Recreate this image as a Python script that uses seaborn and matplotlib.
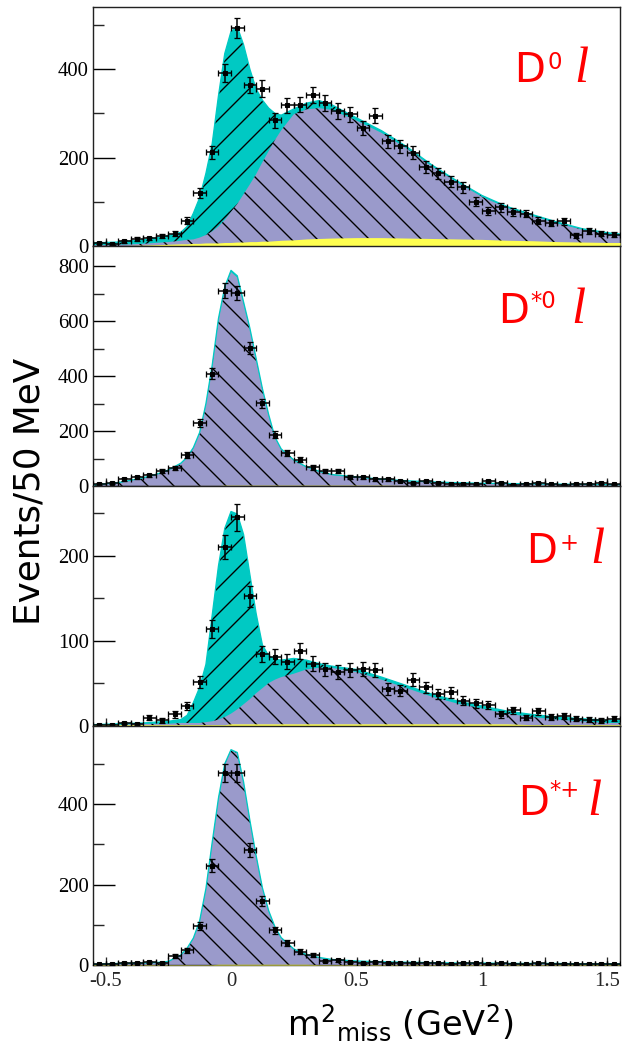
import numpy as np
import matplotlib
matplotlib.use("Agg")
import matplotlib.pyplot as plt
import seaborn as sns
from matplotlib.ticker import MultipleLocator
from matplotlib.transforms import ScaledTranslation

# ---------------------------------------------------------------------------
# Histogram binning (50 MeV-wide bins in m^2_miss, GeV^2)
bin_centers = np.round(np.arange(-0.525, 1.55, 0.05), 3)
half_width = 0.025

# Observed events per bin
counts_d0 = [8, 6, 12, 17, 18, 23, 29, 58, 120, 212, 391, 492, 364, 356, 285, 318,
             320, 341, 323, 305, 298, 267, 295, 237, 226, 211, 180, 165, 146, 133,
             101, 80, 88, 78, 74, 58, 53, 57, 25, 35, 29, 27]
counts_dst0 = [7, 12, 24, 32, 39, 56, 65, 114, 230, 408, 711, 702, 502, 301, 187, 120,
               96, 68, 53, 56, 33, 32, 25, 24, 19, 12, 19, 12, 8, 7, 6, 17, 10, 5,
               8, 10, 6, 4, 8, 8, 10, 6]
counts_dp = [1, 1, 3, 2, 9, 6, 13, 23, 51, 114, 210, 245, 152, 84, 81, 75, 88, 73, 66,
             63, 65, 67, 65, 43, 41, 54, 45, 37, 39, 29, 26, 24, 13, 18, 9, 17, 10,
             11, 8, 7, 6, 8]
counts_dstp = [2, 3, 5, 5, 7, 5, 23, 37, 96, 247, 477, 477, 286, 158, 86, 54, 33, 25,
               10, 12, 7, 6, 8, 5, 6, 4, 5, 4, 3, 5, 4, 3, 4, 3, 2, 4, 3, 3, 2, 3, 3, 2]

# Fit components sampled along m^2_miss
fit_x = [-0.55, -0.45, -0.35, -0.3, -0.25, -0.2, -0.175, -0.15, -0.125, -0.1, -0.075,
         -0.05, -0.025, 0.0, 0.025, 0.05, 0.075, 0.1, 0.125, 0.15, 0.175, 0.2, 0.25,
         0.3, 0.35, 0.4, 0.5, 0.6, 0.7, 0.8, 0.9, 1.0, 1.1, 1.2, 1.3, 1.4, 1.5, 1.55]

# D0 l sample
d0_bkg = [1, 2, 3, 4, 5, 6, 6, 7, 7, 8, 8, 8, 9, 9, 10, 10, 11, 11, 12, 12, 13, 14, 15,
          17, 18, 19, 20, 20, 19, 18, 17, 16, 14, 13, 11, 10, 9, 9]
d0_dstar = [2, 2, 3, 4, 5, 7, 9, 9, 13, 18, 26, 37, 51, 69, 86, 108, 129, 152, 178, 203,
            227, 248, 283, 292, 294, 289, 264, 236, 202, 163, 128, 96, 73, 56, 41, 28,
            19, 16]
d0_sig = [5, 6, 9, 11, 14, 19, 30, 59, 90, 139, 198, 295, 375, 407, 399, 337, 260, 192,
          140, 97, 60, 34, 12, 14, 17, 12, 6, 5, 4, 3, 3, 3, 3, 3, 3, 2, 3, 3]

# D*0 l sample
dst0_bkg = [1, 1, 2, 2, 2, 2, 2, 2, 2, 2, 2, 2, 3, 3, 3, 3, 3, 3, 3, 3, 3, 3, 3, 3, 3,
            3, 3, 3, 2, 2, 2, 2, 2, 2, 2, 2, 2, 2]
dst0_dstar = [2, 10, 27, 39, 55, 80, 101, 136, 191, 295, 434, 603, 716, 776, 756, 662,
              568, 458, 349, 254, 173, 130, 90, 65, 49, 37, 28, 21, 16, 12, 9, 7, 6, 5,
              4, 3, 2, 2]
dst0_sig = [1, 1, 1, 1, 1, 1, 2, 2, 2, 3, 4, 5, 6, 6, 6, 5, 4, 4, 3, 3, 2, 2, 2, 2, 2,
            2, 2, 1, 1, 1, 1, 1, 1, 1, 1, 1, 1, 1]

# D+ l sample
dp_bkg = [1, 1, 1, 1, 1, 1, 1, 1, 1, 1, 1, 1, 1, 2, 2, 2, 2, 2, 2, 2, 2, 2, 2, 2, 2, 2,
          2, 2, 2, 2, 2, 2, 2, 1, 1, 1, 1, 1]
dp_dstar = [0, 0, 1, 1, 1, 2, 2, 2, 2, 3, 4, 6, 9, 12, 17, 23, 29, 36, 42, 48, 52, 55,
            59, 64, 66, 66, 61, 52, 42, 32, 24, 18, 12, 9, 6, 4, 2, 2]
dp_sig = [0, 1, 1, 2, 3, 4, 9, 24, 42, 68, 125, 181, 222, 238, 230, 200, 147, 94, 51, 32,
          24, 20, 18, 11, 5, 2, 3, 3, 3, 3, 3, 3, 3, 3, 3, 3, 3, 3]

# D*+ l sample
dstp_bkg = [1, 1, 1, 1, 1, 1, 1, 1, 1, 1, 1, 2, 2, 2, 2, 2, 2, 2, 2, 2, 2, 2, 2, 2, 1, 1,
            1, 1, 1, 1, 1, 1, 1, 1, 1, 1, 1, 1]
dstp_dstar = [1, 3, 4, 5, 8, 23, 40, 65, 108, 188, 302, 411, 496, 531, 524, 451, 356,
              268, 189, 132, 92, 65, 37, 23, 17, 12, 8, 6, 5, 4, 3, 3, 2, 2, 2, 1, 1, 1]
dstp_sig = [0, 0, 0, 0, 0, 1, 1, 1, 1, 1, 2, 2, 2, 2, 2, 2, 2, 2, 1, 1, 1, 1, 1, 1, 1, 1,
            1, 1, 1, 1, 1, 1, 1, 1, 1, 1, 1, 1]

# Axis ticks and labels
x_ticks = [-0.5, 0.0, 0.5, 1.0, 1.5]
x_tick_labels = ["-0.5", "0", "0.5", "1", "1.5"]
y_ticks_d0 = [0, 200, 400]
y_ticks_dst0 = [0, 200, 400, 600, 800]
y_ticks_dp = [0, 100, 200]
y_ticks_dstp = [0, 200, 400]
panel_sups = ["0", "*0", "+", "*+"]

# ---------------------------------------------------------------------------
DPI = 78
TEAL = "#00c9c3"
LAVENDER = "#9a9acb"
YELLOW = "#ffff50"
RED = "#ff0000"

sns.set_theme(style="ticks")
plt.rcParams["font.family"] = ["Liberation Serif", "DejaVu Serif"]
plt.rcParams["mathtext.fontset"] = "dejavusans"
plt.rcParams["hatch.linewidth"] = 1.25
plt.rcParams["hatch.color"] = "black"

fig, axes = plt.subplots(4, 1, sharex=True, figsize=(625 / DPI, 1054 / DPI), dpi=DPI)
fig.subplots_adjust(left=0.1488, right=0.992, top=0.9934, bottom=0.0844, hspace=0)

panels = [
    (counts_d0, d0_sig, d0_dstar, d0_bkg, 540, y_ticks_d0, 100),
    (counts_dst0, dst0_sig, dst0_dstar, dst0_bkg, 872, y_ticks_dst0, 100),
    (counts_dp, dp_sig, dp_dstar, dp_bkg, 282, y_ticks_dp, 50),
    (counts_dstp, dstp_sig, dstp_dstar, dstp_bkg, 595, y_ticks_dstp, 100),
]

# label layout: (D x in axes frac, baseline y in axes frac, sup dx px, sup dy px, l dx px)
label_layout = [
    (0.799, 0.687, 33, 31, 60),
    (0.768, 0.679, 33, 33, 74),
    (0.822, 0.680, 33, 31, 64),
    (0.806, 0.626, 32, 36, 70),
]


def px(dx, dy):
    return ScaledTranslation(dx / DPI, dy / DPI, fig.dpi_scale_trans)


for ax, (counts, sig, feed, bkg, ymax, yt, ymin_step), sup, lay in zip(
        axes, panels, panel_sups, label_layout):
    bkg = np.asarray(bkg, float)
    feed_top = bkg + np.asarray(feed, float)
    total = feed_top + np.asarray(sig, float)

    # stacked fit: signal (top), D* feed-down, background (bottom)
    ax.fill_between(fit_x, 0, total, facecolor=TEAL, edgecolor="black",
                    hatch="/", linewidth=0, zorder=1)
    ax.fill_between(fit_x, 0, feed_top, facecolor=LAVENDER, edgecolor="black",
                    hatch="\\", linewidth=0, zorder=2)
    ax.fill_between(fit_x, 0, bkg, facecolor=YELLOW, edgecolor=YELLOW,
                    linewidth=0, zorder=3)
    sns.lineplot(x=fit_x, y=total, ax=ax, color=TEAL, linewidth=1.2, zorder=4,
                 legend=False)

    counts = np.asarray(counts, float)
    ax.errorbar(bin_centers, counts, xerr=half_width, yerr=np.sqrt(counts),
                fmt="s", ms=3, color="black", ecolor="black", elinewidth=1.4,
                capsize=2.5, capthick=1.2, zorder=5)

    ax.set_xlim(-0.55, 1.55)
    ax.set_ylim(0, ymax)
    ax.set_yticks(yt)
    ax.yaxis.set_minor_locator(MultipleLocator(ymin_step))
    ax.set_xticks(x_ticks, labels=x_tick_labels)
    ax.xaxis.set_minor_locator(MultipleLocator(0.25))
    ax.set_ylabel("")
    ax.set_xlabel("")
    ax.tick_params(axis="y", which="major", direction="in", length=20, width=1.3,
                   left=True, right=False, labelsize=19, pad=4, colors="black")
    ax.tick_params(axis="y", which="minor", direction="in", length=10, width=1.3,
                   left=True, right=False)
    ax.tick_params(axis="x", which="both", direction="in", length=7, width=1.2,
                   bottom=True, top=False, labelsize=19, pad=6)
    for s in ax.spines.values():
        s.set_visible(True)
        s.set_linewidth(1.3)
        s.set_color("#222222")

    # channel label in red
    x0, y0, sdx, sdy, ldx = lay
    ax.text(x0, y0, "D", transform=ax.transAxes, color=RED, fontsize=37,
            family="DejaVu Sans", ha="left", va="baseline", zorder=6)
    ax.text(x0, y0, sup, transform=ax.transAxes + px(sdx, sdy), color=RED,
            fontsize=21, family="DejaVu Sans", ha="left", va="top", zorder=6)
    ax.text(x0, y0, "l", transform=ax.transAxes + px(ldx, 0), color=RED,
            fontsize=47, family="Liberation Serif", style="italic",
            ha="left", va="baseline", zorder=6)

for ax in axes[:-1]:
    ax.tick_params(axis="x", labelbottom=False)

fig.text(0.048, 0.534, "Events/50 MeV", rotation=90, fontsize=33,
         family="DejaVu Sans", ha="center", va="center", color="black")
fig.text(0.64, 0.029, "m$^{2}$$_{\\mathregular{miss}}$ (GeV$^{2}$)", fontsize=31,
         family="DejaVu Sans", ha="center", va="center", color="black")

fig.savefig("out.png", dpi=DPI, facecolor="white")
